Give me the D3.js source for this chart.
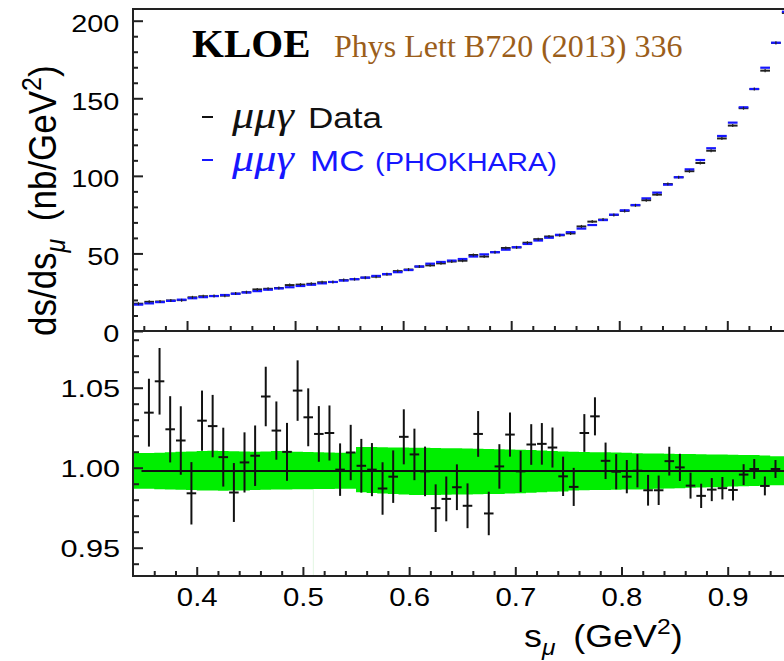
<!DOCTYPE html>
<html>
<head>
<meta charset="utf-8">
<script src="https://cdn.jsdelivr.net/npm/d3@7"></script>
<style>
  body { margin: 0; background: #fff; }
  svg { display: block; }
  .sans { font-family: "Liberation Sans", Arial, sans-serif; }
  .serif { font-family: "Liberation Serif", "Times New Roman", serif; }
</style>
</head>
<body>
<svg id="chart" width="784" height="661"></svg>
<script>
// bin centres in s_mu (GeV^2), 0.01 wide
const binS = [0.355,0.365,0.375,0.385,0.395,0.405,0.415,0.425,0.435,0.445,
              0.455,0.465,0.475,0.485,0.495,0.505,0.515,0.525,0.535,0.545,
              0.555,0.565,0.575,0.585,0.595,0.605,0.615,0.625,0.635,0.645,
              0.655,0.665,0.675,0.685,0.695,0.705,0.715,0.725,0.735,0.745,
              0.755,0.765,0.775,0.785,0.795,0.805,0.815,0.825,0.835,0.845,
              0.855,0.865,0.875,0.885,0.895,0.905,0.915,0.925,0.935,0.945,
              0.955];

// upper panel: ds/ds_mu (nb/GeV^2)
const mcTop = [17.0,17.8,18.6,19.4,20.2,21.1,21.8,22.5,23.2,24.0,
               24.8,25.7,26.6,27.4,28.2,29.0,29.8,30.7,31.6,32.5,
               33.4,34.4,35.5,36.7,37.9,39.3,41.6,43.4,44.5,45.4,
               46.4,48.0,49.4,50.8,52.4,54.0,56.1,58.3,60.1,62.0,
               63.7,66.0,68.3,71.5,75.0,77.8,81.2,85.5,89.2,94.3,
               99.1,104.2,110.2,117.8,125.7,134.3,144.2,156.0,169.7,185.8,
               205.8];
const dataTop = [17.6,18.8,19.0,19.7,19.9,21.7,22.4,22.6,22.8,24.1,
                 25.0,26.8,27.2,27.7,29.6,29.9,30.4,31.4,31.6,32.8,
                 33.4,34.4,35.0,36.5,38.6,39.6,41.5,42.3,43.6,44.8,
                 45.3,49.0,48.0,50.8,53.5,53.9,56.9,59.2,60.9,61.7,
                 62.9,67.4,70.5,71.8,74.8,77.4,81.0,84.3,87.9,94.7,
                 99.1,103.0,108.3,116.2,124.1,132.4,143.6,155.9,167.8,185.7,
                 205.0];

// lower panel: data / MC
const ratio = [1.0344,1.0540,1.0240,1.0170,0.9840,1.0294,1.0260,1.0066,0.9845,1.0033,
               1.0075,1.0445,1.0232,1.0099,1.0482,1.0315,1.0211,1.0217,0.9988,1.0095,
               1.0012,0.9988,0.9870,0.9944,1.0193,1.0083,0.9977,0.9747,0.9805,0.9878,
               0.9762,1.0211,0.9714,1.0008,1.0207,0.9977,1.0145,1.0149,1.0126,0.9946,
               0.9880,1.0217,1.0321,1.0043,0.9975,0.9944,0.9981,0.9859,0.9859,1.0041,
               1.0002,0.9888,0.9824,0.9863,0.9872,0.9861,0.9957,0.9992,0.9886,0.9992];
const ratioErr = [0.0212,0.0208,0.0207,0.0214,0.0195,0.0188,0.0195,0.0184,0.0184,0.0188,
                  0.0189,0.0186,0.0182,0.0181,0.0189,0.0181,0.0174,0.0172,0.0164,0.0173,
                  0.0168,0.0166,0.0164,0.0164,0.0172,0.0161,0.0155,0.0149,0.0140,0.0143,
                  0.0140,0.0143,0.0136,0.0139,0.0138,0.0129,0.0127,0.0130,0.0125,0.0123,
                  0.0119,0.0118,0.0119,0.0114,0.0110,0.0104,0.0104,0.0096,0.0092,0.0090,
                  0.0085,0.0081,0.0076,0.0072,0.0070,0.0066,0.0065,0.0062,0.0059,0.0056];
// systematic band (green)
const bandHi = [1.0092,1.0094,1.0096,1.0099,1.0102,1.0104,1.0106,1.0105,1.0103,1.0101,
                1.0100,1.0102,1.0104,1.0103,1.0100,1.0098,1.0096,1.0095,1.0094,1.0095,
                1.0130,1.0129,1.0128,1.0127,1.0126,1.0125,1.0124,1.0123,1.0122,1.0121,
                1.0120,1.0118,1.0117,1.0116,1.0114,1.0112,1.0110,1.0107,1.0104,1.0101,
                1.0099,1.0098,1.0097,1.0096,1.0095,1.0093,1.0091,1.0089,1.0088,1.0087,
                1.0086,1.0085,1.0084,1.0083,1.0082,1.0081,1.0080,1.0079,1.0076,1.0072];
const bandLo = [0.9868,0.9866,0.9864,0.9862,0.9860,0.9858,0.9857,0.9856,0.9857,0.9858,
                0.9860,0.9862,0.9863,0.9864,0.9865,0.9866,0.9867,0.9867,0.9868,0.9868,
                0.9846,0.9842,0.9838,0.9835,0.9832,0.9830,0.9830,0.9830,0.9831,0.9832,
                0.9833,0.9834,0.9835,0.9836,0.9838,0.9840,0.9843,0.9846,0.9849,0.9852,
                0.9858,0.9859,0.9860,0.9861,0.9862,0.9863,0.9864,0.9866,0.9868,0.9870,
                0.9872,0.9874,0.9876,0.9878,0.9880,0.9882,0.9884,0.9886,0.9888,0.9890];
const refLine = 0.998;
const seamS = 0.5098;

const topYTicks = [0, 50, 100, 150, 200];
const botYTicks = [0.95, 1.00, 1.05];
const xTicks = [0.4, 0.5, 0.6, 0.7, 0.8, 0.9];

const halfBin = 0.0045;
const blue = '#1616ff';
const green = '#00ee00';
const sx = 1.2;   // sans text in the original is drawn wide

const svg = d3.select('#chart');
const axX = 133, rightX = 790;

const xTop = d3.scaleLinear().domain([0.35, 0.90]).range([axX, 727.3]);
const yTop = d3.scaleLinear().domain([0, 200]).range([331, 20.7]);
const xBot = d3.scaleLinear().domain([0.34, 0.90]).range([axX, 727.7]);
const yBot = d3.scaleLinear().domain([0.95, 1.00]).range([547.7, 467.7]);

const topY0 = 9, midY = 331, botY = 576;

const defs = svg.append('defs');
defs.append('clipPath').attr('id', 'clipTop').append('rect')
    .attr('x', axX).attr('y', topY0).attr('width', rightX - axX).attr('height', midY - topY0);
defs.append('clipPath').attr('id', 'clipBot').append('rect')
    .attr('x', axX).attr('y', midY).attr('width', rightX - axX).attr('height', botY - midY);

// ---------- lower panel ----------
const gb = svg.append('g').attr('clip-path', 'url(#clipBot)');
const bandPts = [{s: 0.33, hi: bandHi[0], lo: bandLo[0]}]
    .concat(ratio.map((r, i) => ({s: binS[i], hi: bandHi[i], lo: bandLo[i]})))
    .concat([{s: 0.97, hi: bandHi[59], lo: bandLo[59]}]);
gb.append('path')
    .datum(bandPts)
    .attr('fill', green)
    .attr('d', d3.area().curve(d3.curveStep)
        .x(d => xBot(d.s)).y0(d => yBot(d.lo)).y1(d => yBot(d.hi)));
gb.append('line')
    .attr('x1', xBot(seamS)).attr('x2', xBot(seamS))
    .attr('y1', yBot(0.9866)).attr('y2', botY)
    .attr('stroke', '#e2f6e2').attr('stroke-width', 1);
gb.append('line')
    .attr('x1', xBot(0.348)).attr('x2', rightX)
    .attr('y1', yBot(refLine)).attr('y2', yBot(refLine))
    .attr('stroke', '#111').attr('stroke-width', 2);

const pts = gb.selectAll('g.pt').data(ratio).enter().append('g').attr('class', 'pt');
pts.append('line')
    .attr('x1', (d, i) => xBot(binS[i])).attr('x2', (d, i) => xBot(binS[i]))
    .attr('y1', (d, i) => yBot(d - ratioErr[i])).attr('y2', (d, i) => yBot(d + ratioErr[i]))
    .attr('stroke', '#111').attr('stroke-width', 2);
pts.append('line')
    .attr('x1', (d, i) => xBot(binS[i] - halfBin)).attr('x2', (d, i) => xBot(binS[i] + halfBin))
    .attr('y1', d => yBot(d)).attr('y2', d => yBot(d))
    .attr('stroke', '#111').attr('stroke-width', 2);

// ---------- upper panel ----------
const gt = svg.append('g').attr('clip-path', 'url(#clipTop)');
gt.selectAll('line.data').data(dataTop).enter().append('line').attr('class', 'data')
    .attr('x1', (d, i) => xTop(binS[i] - halfBin)).attr('x2', (d, i) => xTop(binS[i] + halfBin))
    .attr('y1', d => yTop(d)).attr('y2', d => yTop(d))
    .attr('stroke', '#222').attr('stroke-width', 2);
gt.selectAll('line.mc').data(mcTop).enter().append('line').attr('class', 'mc')
    .attr('x1', (d, i) => xTop(binS[i] - halfBin)).attr('x2', (d, i) => xTop(binS[i] + halfBin))
    .attr('y1', d => yTop(d)).attr('y2', d => yTop(d))
    .attr('stroke', blue).attr('stroke-width', 2.2);
gt.selectAll('line.err').data(dataTop).enter().append('line').attr('class', 'err')
    .attr('x1', (d, i) => xTop(binS[i])).attr('x2', (d, i) => xTop(binS[i]))
    .attr('y1', (d, i) => yTop(d) - Math.max(1.5, d * (ratioErr[i] || 0.005) * 1.55))
    .attr('y2', (d, i) => yTop(d) + Math.max(1.5, d * (ratioErr[i] || 0.005) * 1.55))
    .attr('stroke', '#222').attr('stroke-width', 1.2);

// ---------- frame and axes ----------
const frame = svg.append('g').attr('stroke', '#222').attr('stroke-width', 2).attr('fill', 'none');
frame.append('line').attr('x1', axX).attr('x2', rightX).attr('y1', topY0).attr('y2', topY0);
frame.append('line').attr('x1', axX).attr('x2', axX).attr('y1', topY0 - 1).attr('y2', botY + 1);
frame.append('line').attr('x1', axX).attr('x2', rightX).attr('y1', midY).attr('y2', midY);
frame.append('line').attr('x1', axX).attr('x2', rightX).attr('y1', botY).attr('y2', botY);

function styleAxis(g) {
    g.select('.domain').remove();
    g.selectAll('.tick line').attr('stroke', '#222').attr('stroke-width', 2);
}

const minorTopY = d3.range(0, 201, 10).filter(v => v % 50 !== 0);
svg.append('g').attr('transform', `translate(${axX},0)`)
    .call(d3.axisLeft(yTop).tickValues(minorTopY).tickSize(-5).tickFormat(''))
    .call(styleAxis);
const tyAxis = svg.append('g').attr('transform', `translate(${axX},0)`)
    .call(d3.axisLeft(yTop).tickValues(topYTicks).tickSize(-10).tickPadding(11.5).tickFormat(d3.format('d')))
    .call(styleAxis);

const minorX = d3.range(0.34, 0.961, 0.02).filter(v => Math.abs(v * 10 - Math.round(v * 10)) > 0.01);
svg.append('g').attr('transform', `translate(0,${midY})`)
    .call(d3.axisBottom(xTop).tickValues(minorX.filter(v => v > 0.351)).tickSize(-5).tickFormat(''))
    .call(styleAxis);
svg.append('g').attr('transform', `translate(0,${midY})`)
    .call(d3.axisBottom(xTop).tickValues(xTicks).tickSize(-10).tickFormat(''))
    .call(styleAxis);

const minorBotY = d3.range(0.94, 1.09, 0.01).filter(v => Math.abs(v * 20 - Math.round(v * 20)) > 0.01);
svg.append('g').attr('transform', `translate(${axX},0)`)
    .call(d3.axisLeft(yBot).tickValues(minorBotY.filter(v => v < 1.085)).tickSize(-6).tickFormat(''))
    .call(styleAxis);
const byAxis = svg.append('g').attr('transform', `translate(${axX},0)`)
    .call(d3.axisLeft(yBot).tickValues(botYTicks).tickSize(-10).tickPadding(10).tickFormat(d3.format('.2f')))
    .call(styleAxis);

svg.append('g').attr('transform', `translate(0,${botY})`)
    .call(d3.axisBottom(xBot).tickValues(minorX.filter(v => v > 0.341)).tickSize(-5).tickFormat(''))
    .call(styleAxis);
const bxAxis = svg.append('g').attr('transform', `translate(0,${botY})`)
    .call(d3.axisBottom(xBot).tickValues(xTicks).tickSize(-9).tickPadding(12).tickFormat(d3.format('.1f')))
    .call(styleAxis);

tyAxis.selectAll('text').attr('class', 'sans').attr('font-size', 24).attr('fill', '#000')
    .attr('dy', '0.45em').attr('transform', `scale(${sx},1)`);
byAxis.selectAll('text').attr('class', 'sans').attr('font-size', 24).attr('fill', '#000')
    .attr('dy', '0.36em').attr('transform', `scale(1.28,1)`);
bxAxis.selectAll('text').attr('class', 'sans').attr('font-size', 26).attr('fill', '#000')
    .attr('transform', `scale(1.13,1)`)
    .attr('x', 0);

// ---------- titles ----------
const yTitle = svg.append('text').attr('class', 'sans').attr('font-size', 35)
    .attr('transform', 'translate(56,336) rotate(-90) scale(1,1.12)');
yTitle.append('tspan').text('ds/ds');
yTitle.append('tspan').attr('dy', 8).attr('font-size', 25).attr('font-style', 'italic').text('μ');
yTitle.append('tspan').attr('dy', -8).text('\u2002(nb/GeV');
yTitle.append('tspan').attr('dy', -13).attr('font-size', 25).text('2');
yTitle.append('tspan').attr('dy', 13).text(')');

const xTitle = svg.append('text').attr('class', 'sans').attr('font-size', 32)
    .attr('transform', 'translate(524,647) scale(1.12,1)');
xTitle.append('tspan').text('s');
xTitle.append('tspan').attr('dy', 8).attr('font-size', 22).attr('font-style', 'italic').text('μ');
xTitle.append('tspan').attr('dy', -8).text('\u2002(GeV');
xTitle.append('tspan').attr('dy', -13).attr('font-size', 22).text('2');
xTitle.append('tspan').attr('dy', 13).text(')');

// ---------- annotations and legend ----------
svg.append('text').attr('class', 'serif').attr('x', 192).attr('y', 57)
    .attr('font-size', 41).attr('font-weight', 'bold').text('KLOE');
svg.append('text').attr('class', 'serif').attr('x', 334).attr('y', 57)
    .attr('font-size', 32).attr('fill', '#9b5e1a').text('Phys Lett B720 (2013) 336');

const legend = [
    {label: 'Data', color: '#111', y: 128},
    {label: 'MC', color: blue, y: 171, extra: '(PHOKHARA)'}
];
const lg = svg.append('g').selectAll('g').data(legend).enter().append('g');
lg.append('line')
    .attr('x1', 202).attr('x2', 213)
    .attr('y1', d => d.y - 11).attr('y2', d => d.y - 11)
    .attr('stroke', d => d.color).attr('stroke-width', 2);
lg.append('text').attr('class', 'serif')
    .attr('transform', d => `translate(232,${d.y}) scale(1.2,1)`)
    .attr('font-size', 37).attr('font-style', 'italic').attr('fill', d => d.color)
    .text('μμγ');
lg.append('text').attr('class', 'sans')
    .attr('transform', d => `translate(${d.label === 'Data' ? 308 : 310},${d.y}) scale(1.17,1)`)
    .attr('font-size', 30).attr('fill', d => d.color)
    .text(d => d.label);
lg.filter(d => d.extra).append('text').attr('class', 'sans')
    .attr('transform', d => `translate(375,${d.y}) scale(1.16,1)`)
    .attr('font-size', 25).attr('fill', d => d.color)
    .text(d => d.extra);
</script>
</body>
</html>
